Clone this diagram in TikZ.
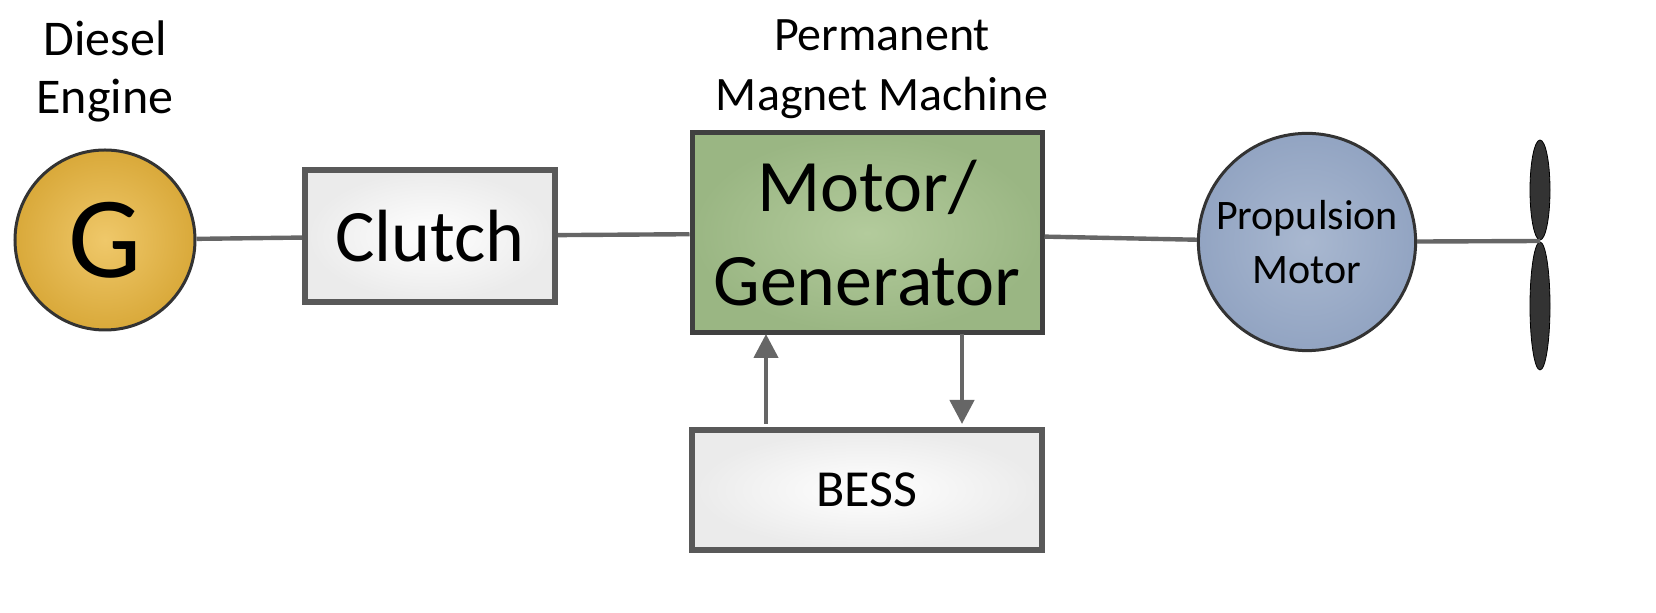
\documentclass[tikz,border=0pt]{standalone}
\usepackage{fontspec}
\setmainfont{Carlito}
\usetikzlibrary{arrows.meta,shapes.geometric}
\definecolor{gold}{HTML}{EFC86A}
\definecolor{goldd}{HTML}{D9A93A}
\definecolor{pgreen}{HTML}{B3CB9C}
\definecolor{pgreend}{HTML}{9AB683}
\definecolor{pblue}{HTML}{A9B8D0}
\definecolor{pblued}{HTML}{92A4C2}
\begin{document}
\begin{tikzpicture}[x=0.5pt,y=-0.5pt,
  conn/.style={draw=black!60,line width=2.2pt},
  box/.style={draw=black!65,line width=3pt,inner color=white,outer color=black!8}]
\useasboundingbox (0,0) rectangle (1656,613);
% diesel engine
\node[circle,minimum size=90pt,draw=black!80,line width=1.5pt,inner color=gold,outer color=goldd,font=\fontsize{58}{58}\selectfont] (g) at (105,240) {G};
\node[font=\fontsize{25}{29}\selectfont,align=center] (dl) at (105,71) {Diesel\\Engine};
% clutch
\node[box,minimum width=125pt,minimum height=66pt,font=\fontsize{37}{37}\selectfont] (cl) at (430,236) {Clutch};
% PMM
\node[draw=black!75,line width=2.5pt,inner color=pgreen,outer color=pgreend,minimum width=175pt,minimum height=100pt,font=\fontsize{37}{47}\selectfont,align=center] (pm) at (867,233) {Motor/\\Generator};
\node[font=\fontsize{24}{30}\selectfont,align=center] (pml) at (882,69) {Permanent\\Magnet Machine};
% BESS
\node[box,minimum width=175pt,minimum height=60pt,font=\fontsize{26}{26}\selectfont] (bs) at (867,490) {BESS};
% propulsion motor
\node[circle,minimum size=102pt,draw=black!80,line width=1.5pt,inner color=pblue,outer color=pblued,font=\fontsize{21}{27}\selectfont,align=center] (pr) at (1307,242) {Propulsion\\Motor};
% propeller
\coordinate (hub) at (1540,241);
\node[ellipse,draw=black,fill=black!80,minimum width=10pt,minimum height=50pt,inner sep=0pt] (b1) at (1540,190) {};
\node[ellipse,draw=black,fill=black!80,minimum width=10pt,minimum height=64pt,inner sep=0pt] (b2) at (1540,306) {};
% connectors
\draw[conn] (g) -- (cl);
\draw[conn] (cl) -- (pm);
\draw[conn] (pm) -- (pr);
\draw[conn] (pr) -- (hub);
\coordinate (u1) at (766,424); \coordinate (u2) at (766,334);
\coordinate (d1) at (962,334); \coordinate (d2) at (962,424);
\draw[conn,-{Triangle[length=12pt,width=12pt]}] (u1) -- (u2);
\draw[conn,-{Triangle[length=12pt,width=12pt]}] (d1) -- (d2);
\end{tikzpicture}
\end{document}
